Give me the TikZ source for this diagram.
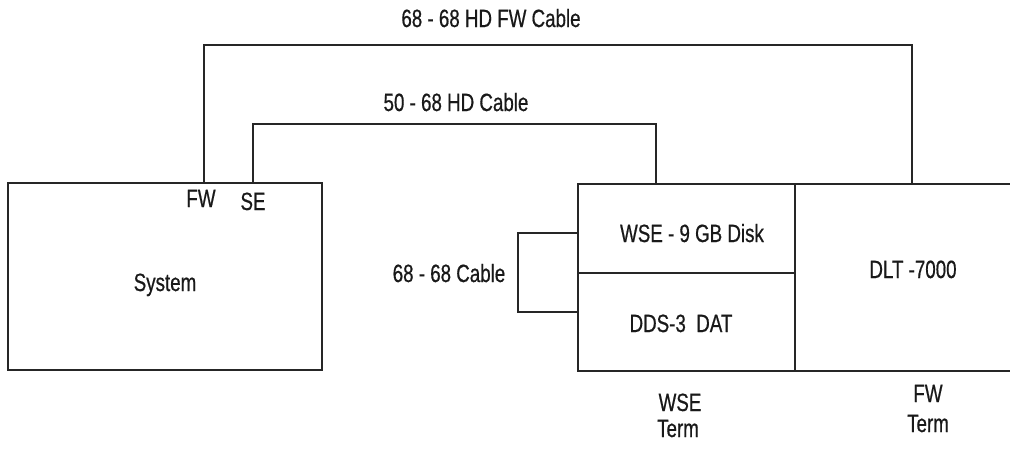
\documentclass[tikz,border=0pt]{standalone}
\usepackage{fontspec}
\setmainfont{Liberation Sans}[FakeStretch=0.75,FakeBold=0.6]
\begin{document}
\begin{tikzpicture}[x=1pt,y=-1pt,
  ln/.style={draw=black!85, line width=1.3pt},
  lbl/.style={inner sep=0pt, text height=18pt, text depth=0pt, text=black!90, font=\fontsize{25}{28}\selectfont},
  box/.style={ln, inner sep=0pt}]
\useasboundingbox (0,0) rectangle (1010,448);
\clip (0,0) rectangle (1010,448);
% boxes
\node[box, minimum width=314pt, minimum height=187pt] (sys) at (165,276.5) {};
\node[box, minimum width=217pt, minimum height=89pt] (wse) at (686.5,228.5) {};
\node[box, minimum width=217pt, minimum height=98pt] (dds) at (686.5,322) {};
\node[box, minimum width=230pt, minimum height=187pt] (dlt) at (910,277.5) {};
% texts
\node[lbl] (tsys) at (165,282) {System};
\node[lbl] (twse) at (692,233) {WSE - 9 GB Disk};
\node[lbl] (tdds) at (681,323) {DDS-3\ \ DAT};
\node[lbl] (tdlt) at (913,269) {DLT -7000};
\node[lbl] (tfw) at (201,198) {FW};
\node[lbl] (tse) at (253,201) {SE};
\node[lbl] (tc1) at (491,18) {68 - 68 HD FW Cable};
\node[lbl] (tc2) at (456,102) {50 - 68 HD Cable};
\node[lbl] (tc3) at (449,273) {68 - 68 Cable};
\node[lbl] (twt1) at (680,402) {WSE};
\node[lbl] (twt2) at (678,428) {Term};
\node[lbl] (tft1) at (928,393) {FW};
\node[lbl] (tft2) at (928,423) {Term};
% connector anchors
\coordinate (fwp) at (204,183);
\coordinate (sep) at (253,183);
\coordinate (wsep) at (656,184);
\coordinate (dltp) at (912,184);
\coordinate (w1) at (578,233);
\coordinate (d1) at (578,312);
% cables
\draw[ln] (fwp) -- (fwp |- 0,45) -- (dltp |- 0,45) -- (dltp);
\draw[ln] (sep) -- (sep |- 0,124) -- (wsep |- 0,124) -- (wsep);
\draw[ln] (w1) -- (518,233) -- (518,312) -- (d1);
\end{tikzpicture}
\end{document}
